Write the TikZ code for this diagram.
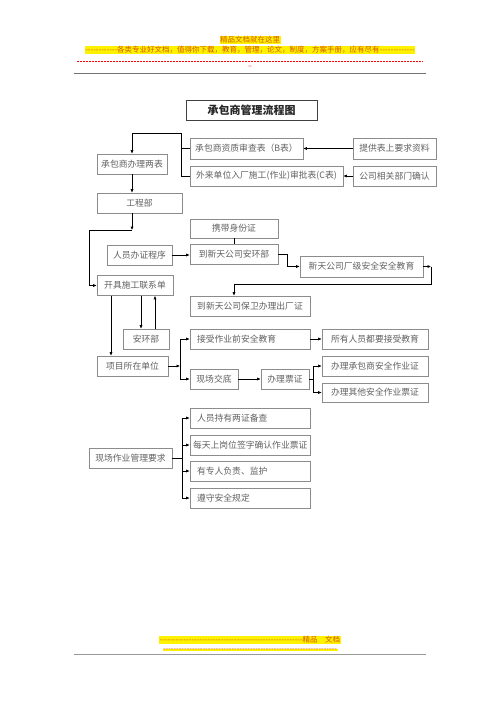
\documentclass[tikz,border=0pt]{standalone}
\usepackage{fontspec}
\setmainfont{Noto Sans CJK SC}
\usetikzlibrary{arrows.meta,shadows}
\definecolor{hdr}{RGB}{214,84,0}
\newcommand\dashfill[1]{\makebox[#1]{\xleaders\hbox{-}\hfill}}
\begin{document}
\begin{tikzpicture}[x=1pt,y=-1pt,
  box/.style={draw=black!45, line width=0.6pt, fill=white,
    general shadow={fill=black!55, shadow xshift=0.9pt, shadow yshift=-0.9pt},
    font=\fontsize{8.8}{10}\selectfont, text=black!62, inner xsep=2pt, inner ysep=0pt,
    minimum height=20pt},
  lbox/.style={box, inner xsep=7pt, text width=106pt, align=left},
  titlebox/.style={draw=black!75, line width=1pt, fill=white,
    general shadow={fill=black!50, shadow xshift=0.8pt, shadow yshift=-0.8pt},
    font=\fontsize{11}{13}\selectfont\bfseries, text=black!85, minimum width=131pt, minimum height=20pt},
  hl/.style={fill=yellow, text=hdr, inner xsep=0.5pt, inner ysep=0.8pt, font=\fontsize{7.5}{8.5}\selectfont},
  arr/.style={draw=black, line width=0.7pt, -{Latex[length=3.5pt,width=3.2pt]}},
  ln/.style={draw=black, line width=0.7pt}
]
\useasboundingbox (0,0) rectangle (500,707);
\fill[white] (0,0) rectangle (500,707);

% header
\node[hl] (h1) at (250,40) {精品文档就在这里};
\node[hl] (h2) at (250,50) {\dashfill{32pt}各类专业好文档，值得你下载，教育，管理，论文，制度，方案手册，应有尽有\dashfill{35pt}};
\draw[red, line width=0.6pt, dash pattern=on 2pt off 1pt] (77,61) -- (423,61);
\node[text=red, font=\fontsize{7}{8}\selectfont, inner sep=0pt] (h3) at (250,67.5) {--};
\draw[black!55, line width=1pt] (74,73) -- (426,73);

% footer
\node[hl, anchor=west] (f1) at (159,640) {\dashfill{143pt}精品　文档};
\node[hl, inner ysep=0pt] (f2) at (250,650) {\dashfill{174pt}};
\draw[black!40, line width=1pt] (74,654) -- (426,654);

% title
\node[titlebox] (title) at (251.5,110) {承包商管理流程图};

% nodes
\node[box, minimum width=113pt, minimum height=21pt] (B) at (246.5,148.5) {承包商资质审查表（B表）};
\node[box, minimum width=153pt] (C) at (266.5,176) {外来单位入厂施工(作业)审批表(C表)};
\node[box, minimum width=83pt, minimum height=21pt] (P1) at (394.5,148.5) {提供表上要求资料};
\node[box, minimum width=83pt] (P2) at (394.5,176) {公司相关部门确认};
\node[box, minimum width=70pt] (LB) at (132,164) {承包商办理两表};
\node[box, minimum width=85pt] (GC) at (139.5,203) {工程部};
\node[box, minimum width=88pt, minimum height=19pt] (ID) at (234,228.5) {携带身份证};
\node[box, minimum width=65pt] (RY) at (139.5,255) {人员办证程序};
\node[box, minimum width=88pt] (AH) at (234,254) {到新天公司安环部};
\node[box, minimum width=123pt, minimum height=21pt] (CJ) at (361.5,266.5) {新天公司厂级安全安全教育};
\node[box, minimum width=76pt] (KJ) at (135,285.5) {开具施工联系单};
\node[box, minimum width=120pt] (BW) at (250,306) {到新天公司保卫办理出厂证};
\node[box, minimum width=46pt] (AHB) at (146,339) {安环部};
\node[box, minimum width=71pt] (XM) at (132.5,366) {项目所在单位};
\node[lbox] (JS) at (250,339) {接受作业前安全教育};
\node[box, minimum width=48pt] (XC) at (214,379) {现场交底};
\node[box, minimum width=48pt] (PZ) at (285,379) {办理票证};
\node[box, minimum width=106pt] (SY) at (375,339) {所有人员都要接受教育};
\node[box, minimum width=106pt] (CB) at (375,366) {办理承包商安全作业证};
\node[box, minimum width=106pt, minimum height=19pt] (QT) at (375,392.5) {办理其他安全作业票证};
\node[box, minimum width=83pt] (XQ) at (130.5,458) {现场作业管理要求};
\node[lbox] (R1) at (250,418) {人员持有两证备查};
\node[lbox, inner xsep=3pt, text width=114pt] (R2) at (250,445) {每天上岗位签字确认作业票证};
\node[lbox] (R3) at (250,471) {有专人负责、监护};
\node[lbox] (R4) at (250,498) {遵守安全规定};

% helper coordinates
\coordinate (top) at (181,133);
\coordinate (ax) at (132,0);
\coordinate (g1) at (132,230);
\coordinate (g2) at (89,230);
\coordinate (c2) at (431,266.5);
\coordinate (bx) at (234,284);
\coordinate (k1) at (111,0);
\coordinate (k2) at (141,0);
\coordinate (k3) at (155,0);
\coordinate (j1) at (180,366);
\coordinate (j2) at (313,379);
\coordinate (j3) at (182,458);

% connectors
\draw[arr] (B.west) -| (top) -| (LB.north);
\draw[ln] (C.west) -| (top);
\draw[arr] (P1.west) -- (B.east);
\draw[arr] (P2.west) -- (C.east);
\draw[arr] (ax |- LB.south) -- (ax |- GC.north);
\draw[arr] (ax |- GC.south) -- (g1);
\draw[arr] (g1) -- (g2) |- (KJ.west);
\draw[ln] (ID.south) -- (AH.north);
\draw[arr] (RY.east) -- (RY.east -| AH.west);
\draw[arr] (AH.east) -- ++(9,0) |- (CJ.west);
\draw[arr] (CJ.east) -- (c2);
\draw[arr] (c2) |- (bx) -- (bx |- BW.north);
\draw[arr] (k1 |- KJ.south) -- (k1 |- XM.north);
\draw[arr] (k2 |- KJ.south) -- (k2 |- AHB.north);
\draw[arr] (k3 |- AHB.north) -- (k3 |- KJ.south);
\draw[arr] (XM.east) -- (j1);
\draw[arr] (j1) |- (JS.west);
\draw[arr] (j1) |- (XC.west);
\draw[arr] (JS.east) -- (SY.west);
\draw[arr] (XC.east) -- (PZ.west);
\draw[ln] (PZ.east) -- (j2);
\draw[arr] (j2) |- (CB.west);
\draw[arr] (j2) |- (QT.west);
\draw[ln] (XQ.east) -- (j3);
\draw[arr] (j3) |- (R1.west);
\draw[arr] (j3) |- (R2.west);
\draw[arr] (j3) |- (R3.west);
\draw[arr] (j3) |- (R4.west);
\end{tikzpicture}
\end{document}
